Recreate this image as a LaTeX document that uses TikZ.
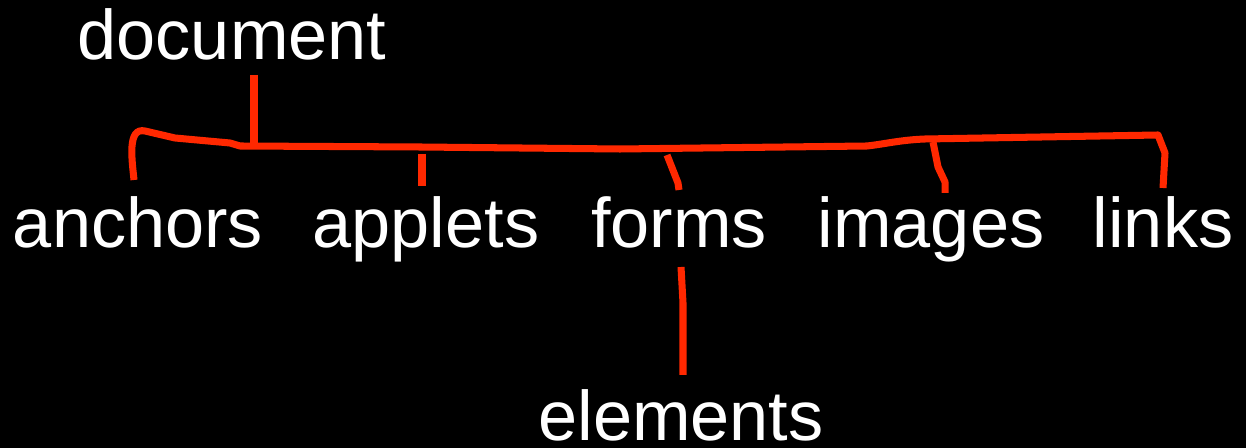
\documentclass[tikz,border=0pt]{standalone}
\usepackage{fontspec}
\setmainfont{Liberation Sans}
\definecolor{penred}{RGB}{255,40,0}
\begin{document}
\begin{tikzpicture}[x=0.02cm,y=-0.02cm,
  word/.style={text=white,font=\fontsize{40}{48}\selectfont,anchor=base,inner sep=0pt},
  pen/.style={draw=penred,line width=4pt,line join=round}]
\fill[black] (0,0) rectangle (1246,448);
\useasboundingbox (0,0) rectangle (1246,448);
\node[word] (doc) at (232,60) {document};
\node[word] (anchors) at (138,248) {anchors};
\node[word] (applets) at (426,248) {applets};
\node[word] (forms) at (679,248) {forms};
\node[word] (images) at (931,248) {images};
\node[word] (links) at (1163,248) {links};
\node[word] (elements) at (681,440) {elements};
\draw[pen] (254,75) -- (254,145);
\draw[pen] (134,180) .. controls (132,160) and (127,127) .. (145,131)
  -- (175,138) -- (230,143) -- (240,146) -- (420,147) -- (620,149)
  -- (867,146) .. controls (885,144) and (900,140) .. (925,139)
  -- (1158,135) -- (1165,153) -- (1163,188);
\draw[pen] (422,154) -- (422,186);
\draw[pen] (667,155) -- (678,183) -- (679,190);
\draw[pen] (933,142) -- (938,167) -- (945,182) -- (945,193);
\draw[pen] (681,267) -- (683,303) -- (683,375);
\end{tikzpicture}
\end{document}
